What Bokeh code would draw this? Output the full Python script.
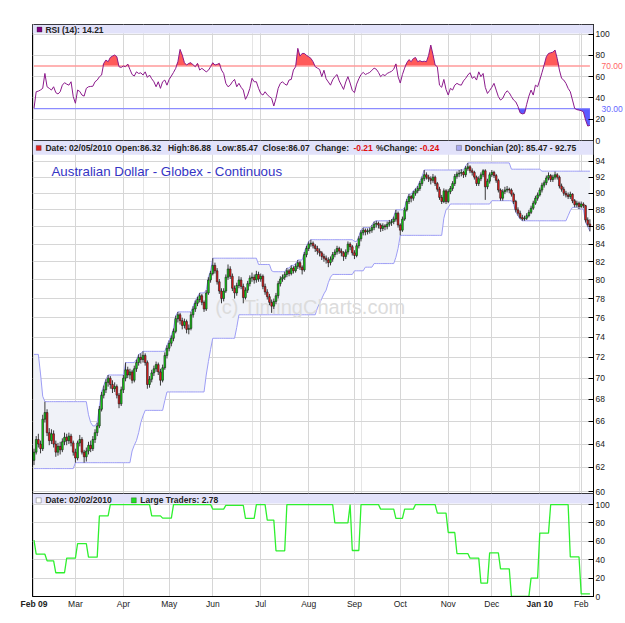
from bokeh.plotting import figure
from bokeh.layouts import column
from bokeh.models import (ColumnDataSource, Range1d, FixedTicker, Label, BoxAnnotation,
                          PrintfTickFormatter, Grid, LinearAxis)
from bokeh.embed import file_html
from bokeh.resources import INLINE
from bokeh.core.properties import value

FONT = "Liberation Sans"

# ---------------- data ----------------
OPEN = [62.6, 63.3, 64.4, 64.0, 63.6, 66.2, 66.8, 65.0, 64.3, 64.9,
        64.0, 63.3, 63.8, 63.5, 64.2, 64.6, 64.3, 64.7, 64.1, 63.3,
        62.8, 64.1, 64.4, 63.3, 62.9, 63.4, 63.9, 63.6, 64.4, 65.0,
        65.6, 67.1, 68.4, 68.9, 69.6, 70.0, 69.4, 69.0, 69.2, 68.4,
        67.6, 68.9, 70.0, 70.8, 70.3, 70.6, 69.8, 70.9, 71.5, 72.0,
        71.8, 72.2, 71.5, 69.4, 69.9, 70.5, 70.9, 71.3, 70.6, 69.8,
        71.0, 72.2, 72.9, 73.4, 73.9, 74.6, 75.9, 76.3, 75.7, 75.2,
        75.6, 74.8, 74.9, 76.3, 76.9, 77.5, 77.9, 78.3, 77.6, 76.9,
        78.6, 80.0, 80.7, 81.6, 81.0, 79.8, 78.8, 78.0, 78.8, 80.3,
        81.2, 80.4, 79.1, 78.6, 79.4, 80.0, 79.3, 78.1, 78.9, 79.6,
        80.2, 80.3, 80.0, 80.6, 80.1, 80.4, 79.3, 78.7, 78.2, 77.6,
        77.2, 77.7, 78.3, 79.6, 80.1, 80.3, 80.6, 81.0, 80.7, 81.3,
        81.0, 81.5, 81.9, 81.4, 81.1, 82.8, 83.5, 84.0, 84.1, 83.8,
        83.5, 83.2, 83.0, 82.6, 82.4, 82.2, 81.9, 82.3, 82.8, 83.1,
        83.5, 83.2, 83.0, 82.6, 83.1, 84.0, 83.7, 83.0, 82.7, 83.8,
        84.6, 85.3, 85.6, 85.4, 85.5, 85.6, 85.9, 86.3, 86.4, 86.2,
        85.8, 86.1, 86.0, 86.3, 86.5, 86.6, 86.9, 87.6, 86.2, 85.6,
        86.9, 88.0, 89.0, 89.6, 89.4, 90.0, 90.3, 90.6, 91.2, 91.8,
        92.3, 92.0, 91.8, 91.6, 92.0, 91.2, 90.5, 89.5, 89.0, 90.3,
        89.0, 90.2, 90.6, 91.2, 92.1, 92.4, 92.5, 92.6, 92.3, 93.1,
        93.3, 92.8, 92.6, 92.0, 91.2, 91.8, 92.3, 92.8, 90.8, 91.5,
        92.3, 92.6, 92.2, 91.6, 90.4, 89.4, 90.2, 90.4, 90.5, 90.4,
        89.9, 89.0, 88.0, 87.6, 87.1, 86.9, 87.0, 87.3, 87.7, 88.2,
        88.8, 89.4, 89.8, 90.4, 91.0, 91.3, 91.9, 92.2, 91.7, 92.0,
        92.3, 92.0, 90.9, 90.5, 90.0, 89.8, 89.6, 89.9, 89.1, 88.6,
        88.8, 88.4, 88.7, 88.5, 86.8, 86.32]
HIGH = [63.6, 64.7, 64.9, 64.3, 66.6, 67.8, 67.1, 65.4, 65.3, 65.2,
        64.3, 64.1, 64.2, 64.5, 65.0, 64.9, 65.0, 64.9, 64.3, 63.6,
        64.3, 64.8, 64.6, 63.5, 63.7, 64.2, 64.3, 64.7, 65.3, 65.9,
        67.4, 68.7, 69.3, 69.9, 70.3, 70.2, 69.8, 69.6, 69.4, 68.6,
        69.2, 70.3, 71.5, 71.1, 70.9, 70.8, 71.2, 71.8, 72.3, 72.4,
        72.6, 72.4, 71.7, 70.2, 70.8, 71.2, 71.6, 71.5, 70.9, 71.3,
        72.5, 73.2, 73.7, 74.2, 74.9, 76.2, 76.6, 76.5, 76.0, 75.9,
        75.8, 75.3, 76.6, 77.2, 77.8, 78.2, 78.6, 78.5, 77.8, 78.9,
        80.3, 81.0, 82.4, 81.9, 81.3, 80.1, 79.1, 79.1, 80.6, 81.7,
        81.5, 80.7, 79.4, 79.7, 80.4, 80.3, 79.6, 79.2, 79.9, 80.5,
        80.8, 80.6, 81.0, 80.9, 80.7, 80.6, 79.6, 79.0, 78.5, 77.9,
        78.0, 78.6, 79.9, 80.4, 80.6, 80.9, 81.3, 81.2, 81.6, 81.5,
        81.8, 82.2, 82.1, 81.6, 83.1, 83.8, 84.3, 84.5, 84.3, 84.0,
        83.8, 83.5, 83.2, 82.9, 82.7, 82.5, 82.6, 83.1, 83.4, 83.8,
        83.7, 83.5, 83.2, 83.4, 84.3, 84.2, 83.9, 83.3, 84.1, 84.9,
        85.6, 85.9, 85.8, 85.8, 85.9, 86.2, 86.6, 86.7, 86.6, 86.4,
        86.4, 86.3, 86.6, 86.8, 86.9, 87.2, 88.0, 87.8, 86.4, 87.2,
        88.3, 89.3, 89.9, 89.8, 90.3, 90.6, 90.9, 91.5, 92.1, 92.9,
        92.6, 92.3, 92.1, 92.4, 92.2, 91.4, 90.8, 89.8, 90.6, 90.5,
        90.5, 90.9, 91.5, 92.4, 92.7, 92.9, 93.0, 92.8, 93.4, 93.8,
        93.5, 93.1, 92.8, 92.2, 92.1, 92.6, 93.0, 93.0, 91.8, 92.6,
        92.9, 92.8, 92.4, 91.8, 90.6, 90.5, 90.8, 90.9, 90.7, 90.6,
        90.1, 89.2, 88.3, 87.9, 87.4, 87.3, 87.6, 88.0, 88.5, 89.1,
        89.7, 90.1, 90.7, 91.3, 91.6, 92.2, 92.6, 92.4, 92.3, 92.7,
        92.5, 92.2, 91.2, 90.8, 90.3, 90.1, 90.2, 90.0, 89.3, 89.1,
        89.0, 89.0, 88.9, 88.6, 87.1, 86.88]
LOW = [62.2, 63.1, 63.7, 63.2, 63.4, 65.9, 64.7, 63.9, 64.0, 63.7,
       62.9, 63.0, 63.1, 63.3, 63.9, 63.9, 64.0, 63.8, 63.0, 62.4,
       62.6, 63.8, 63.1, 62.4, 62.5, 63.1, 63.3, 63.4, 64.1, 64.7,
       65.4, 66.9, 68.1, 68.6, 69.2, 69.0, 68.6, 68.7, 68.1, 67.2,
       67.4, 68.6, 69.7, 70.0, 69.9, 69.5, 69.6, 70.6, 71.2, 71.4,
       71.5, 71.2, 69.0, 69.1, 69.6, 70.2, 70.6, 70.3, 69.3, 69.6,
       70.8, 71.9, 72.6, 73.1, 73.6, 74.4, 75.5, 75.3, 74.8, 74.9,
       74.4, 74.3, 74.7, 76.0, 76.6, 77.2, 77.6, 77.3, 76.6, 76.7,
       78.4, 79.7, 80.5, 80.7, 79.5, 78.5, 77.5, 77.7, 78.6, 80.0,
       80.1, 78.8, 78.0, 78.3, 79.1, 79.0, 77.5, 77.9, 78.6, 79.3,
       79.8, 79.6, 79.7, 79.8, 79.8, 79.0, 78.4, 77.9, 77.3, 76.5,
       76.9, 77.4, 78.0, 79.3, 79.8, 80.0, 80.3, 80.4, 80.5, 80.7,
       80.8, 81.2, 81.1, 80.6, 80.9, 82.5, 83.2, 83.7, 83.5, 83.1,
       82.8, 82.6, 82.2, 82.0, 81.8, 81.4, 81.6, 82.0, 82.5, 82.8,
       82.9, 82.6, 82.1, 82.3, 82.8, 83.3, 82.7, 82.3, 82.5, 83.5,
       84.3, 85.0, 85.0, 85.1, 85.2, 85.3, 85.6, 85.9, 85.8, 85.4,
       85.5, 85.6, 85.7, 86.0, 86.1, 86.3, 86.6, 85.9, 85.0, 85.4,
       86.7, 87.8, 88.7, 88.9, 89.1, 89.7, 90.0, 90.3, 90.9, 91.5,
       91.7, 91.4, 91.1, 91.3, 90.9, 90.2, 89.2, 88.7, 88.8, 88.7,
       88.8, 89.9, 90.3, 90.9, 91.8, 92.0, 92.1, 91.9, 92.0, 92.8,
       92.5, 92.2, 91.7, 90.9, 90.9, 91.5, 92.0, 89.2, 90.5, 91.2,
       92.0, 91.9, 91.3, 90.1, 89.1, 89.1, 89.9, 90.1, 90.0, 89.6,
       88.7, 87.7, 87.3, 86.9, 86.7, 86.7, 86.8, 87.1, 87.5, 88.0,
       88.6, 89.1, 89.6, 90.1, 90.7, 91.0, 91.6, 91.4, 91.4, 91.7,
       91.7, 90.6, 90.2, 89.7, 89.5, 89.3, 89.3, 88.8, 88.3, 88.3,
       88.1, 88.2, 88.2, 86.5, 86.0, 85.47]
CLOSE = [63.3, 64.4, 64.0, 63.6, 66.2, 66.8, 65.0, 64.3, 64.9, 64.0,
         63.3, 63.8, 63.5, 64.2, 64.6, 64.3, 64.7, 64.1, 63.3, 62.8,
         64.1, 64.4, 63.3, 62.9, 63.4, 63.9, 63.6, 64.4, 65.0, 65.6,
         67.1, 68.4, 68.9, 69.6, 70.0, 69.4, 69.0, 69.2, 68.4, 67.6,
         68.9, 70.0, 70.8, 70.3, 70.6, 69.8, 70.9, 71.5, 72.0, 71.8,
         72.2, 71.5, 69.4, 69.9, 70.5, 70.9, 71.3, 70.6, 69.8, 71.0,
         72.2, 72.9, 73.4, 73.9, 74.6, 75.9, 76.3, 75.7, 75.2, 75.6,
         74.8, 74.9, 76.3, 76.9, 77.5, 77.9, 78.3, 77.6, 76.9, 78.6,
         80.0, 80.7, 81.6, 81.0, 79.8, 78.8, 78.0, 78.8, 80.3, 81.2,
         80.4, 79.1, 78.6, 79.4, 80.0, 79.3, 78.1, 78.9, 79.6, 80.2,
         80.3, 80.0, 80.6, 80.1, 80.4, 79.3, 78.7, 78.2, 77.6, 77.2,
         77.7, 78.3, 79.6, 80.1, 80.3, 80.6, 81.0, 80.7, 81.3, 81.0,
         81.5, 81.9, 81.4, 81.1, 82.8, 83.5, 84.0, 84.1, 83.8, 83.5,
         83.2, 83.0, 82.6, 82.4, 82.2, 81.9, 82.3, 82.8, 83.1, 83.5,
         83.2, 83.0, 82.6, 83.1, 84.0, 83.7, 83.0, 82.7, 83.8, 84.6,
         85.3, 85.6, 85.4, 85.5, 85.6, 85.9, 86.3, 86.4, 86.2, 85.8,
         86.1, 86.0, 86.3, 86.5, 86.6, 86.9, 87.6, 86.2, 85.6, 86.9,
         88.0, 89.0, 89.6, 89.4, 90.0, 90.3, 90.6, 91.2, 91.8, 92.3,
         92.0, 91.8, 91.6, 92.0, 91.2, 90.5, 89.5, 89.0, 90.3, 89.0,
         90.2, 90.6, 91.2, 92.1, 92.4, 92.5, 92.6, 92.3, 93.1, 93.3,
         92.8, 92.6, 92.0, 91.2, 91.8, 92.3, 92.8, 90.8, 91.5, 92.3,
         92.6, 92.2, 91.6, 90.4, 89.4, 90.2, 90.4, 90.5, 90.4, 89.9,
         89.0, 88.0, 87.6, 87.1, 86.9, 87.0, 87.3, 87.7, 88.2, 88.8,
         89.4, 89.8, 90.4, 91.0, 91.3, 91.9, 92.2, 91.7, 92.0, 92.3,
         92.0, 90.9, 90.5, 90.0, 89.8, 89.6, 89.9, 89.1, 88.6, 88.8,
         88.4, 88.7, 88.5, 86.8, 86.28, 86.07]

# Donchian (20) channel, read as (first day index, level) steps
DONCHIAN_UPPER = [(0, 72.3), (3, 70.4), (4, 68.3), (5, 67.8), (25, 66.6), (26, 65.9), (27, 65.6),
                  (29, 65.9), (30, 67.4), (31, 68.7), (32, 69.3), (33, 69.9), (34, 70.3), (42, 71.5),
                  (47, 71.8), (48, 72.3), (49, 72.4), (50, 72.6), (61, 73.2), (62, 73.7), (63, 74.2),
                  (64, 74.9), (65, 76.2), (66, 76.6), (73, 77.2), (74, 77.8), (75, 78.2), (76, 78.6),
                  (79, 78.9), (80, 80.3), (81, 81.0), (82, 82.4), (103, 81.7), (109, 81.0), (110, 80.9),
                  (116, 81.3), (118, 81.6), (120, 81.8), (121, 82.2), (124, 83.1), (125, 83.8),
                  (126, 84.3), (127, 84.5), (147, 84.3), (149, 84.9), (150, 85.6), (151, 85.9),
                  (155, 86.2), (156, 86.6), (157, 86.7), (165, 87.2), (166, 88.0), (170, 88.3),
                  (171, 89.3), (172, 89.9), (174, 90.3), (175, 90.6), (176, 90.9), (177, 91.5),
                  (178, 92.1), (179, 92.9), (198, 93.4), (199, 93.8), (219, 93.0), (233, 92.75)]
DONCHIAN_LOWER = [(0, 61.9), (19, 62.4), (45, 63.4), (46, 63.9), (47, 64.3), (48, 65.0), (49, 65.9),
                  (50, 66.5), (51, 67.0), (60, 67.9), (61, 68.7), (79, 70.3), (80, 71.6), (81, 72.8),
                  (82, 73.9), (93, 75.0), (94, 76.3), (130, 77.0), (131, 77.5), (132, 78.0),
                  (133, 78.5), (134, 78.9), (135, 79.7), (136, 80.3), (137, 80.6), (147, 81.0),
                  (152, 81.4), (156, 81.8), (166, 82.5), (167, 83.5), (168, 85.0), (188, 87.0),
                  (189, 88.0), (190, 88.3), (191, 88.7), (210, 89.1), (220, 88.7), (221, 87.7),
                  (222, 87.3), (223, 86.9), (224, 86.7), (245, 87.3), (246, 87.9), (247, 88.3),
                  (250, 88.1), (253, 86.5), (254, 86.0), (255, 85.47)]

RSI = [30.2, 45.8, 46.4, 47.5, 49.0, 63.0, 50.5, 49.0, 47.4, 50.5,
       45.0, 43.7, 45.8, 52.0, 54.3, 53.0, 52.0, 55.2, 41.2, 35.0,
       47.4, 46.1, 42.7, 41.7, 49.0, 50.5, 50.8, 51.0, 55.2, 56.8,
       59.9, 61.5, 72.5, 75.6, 74.0, 78.0, 79.3, 80.3, 78.7, 69.3,
       68.7, 70.0, 69.3, 71.8, 66.8, 62.0, 60.6, 64.5, 63.0, 63.6,
       61.5, 64.5, 59.3, 61.5, 58.0, 55.2, 50.5, 55.2, 49.0, 55.2,
       56.8, 52.0, 57.4, 60.6, 64.0, 67.8, 74.0, 85.6, 80.3, 73.1,
       70.9, 72.5, 73.1, 71.0, 69.3, 72.5, 66.2, 67.8, 66.2, 64.5,
       66.0, 69.3, 73.1, 70.9, 71.5, 72.5, 66.2, 63.0, 53.7, 50.5,
       52.0, 55.2, 57.4, 50.5, 53.7, 50.0, 47.4, 38.7, 42.7, 49.0,
       58.4, 55.2, 55.2, 49.0, 44.2, 42.7, 45.8, 43.0, 41.2, 39.6,
       32.4, 39.6, 49.0, 53.7, 55.2, 53.0, 52.0, 56.8, 57.4, 66.2,
       69.3, 86.6, 79.3, 81.8, 81.8, 80.0, 78.7, 77.2, 74.0, 69.3,
       68.0, 66.8, 60.0, 66.0, 58.0, 55.0, 52.0, 57.0, 60.0, 62.0,
       56.0, 52.0, 48.0, 55.0, 60.0, 54.0, 47.0, 45.0, 53.0, 58.0,
       62.0, 64.0, 62.0, 63.0, 64.0, 66.0, 68.0, 67.0, 64.0, 60.0,
       62.0, 61.0, 63.0, 64.0, 65.0, 67.0, 72.0, 60.0, 54.0, 62.0,
       68.0, 73.0, 76.0, 74.0, 77.0, 78.0, 74.0, 75.0, 74.0, 74.5,
       74.0, 80.0, 89.7, 80.8, 70.9, 69.3, 52.0, 50.0, 57.4, 48.0,
       42.7, 49.0, 47.4, 52.0, 53.7, 52.5, 52.0, 56.0, 58.4, 61.5,
       63.7, 58.4, 60.0, 56.8, 64.5, 60.0, 63.0, 50.0, 44.2, 47.0,
       50.0, 53.7, 47.4, 41.2, 38.0, 39.6, 44.0, 46.7, 44.8, 41.2,
       38.0, 36.3, 32.0, 26.0, 25.0, 25.5, 34.0, 41.7, 47.4, 42.7,
       52.0, 50.5, 56.8, 63.7, 70.9, 78.7, 81.8, 82.4, 83.0, 85.0,
       77.0, 66.2, 58.4, 56.8, 53.7, 49.0, 45.8, 38.0, 30.2, 29.0,
       28.6, 28.0, 27.0, 19.2, 13.6, 14.21]

# Large Traders, weekly steps (first day index, value)
LARGE_TRADERS = [(0, 61.3), (1, 46.0), (6, 38.8), (10, 25.8), (15, 41.7), (20, 57.6), (25, 42.8),
                 (30, 87.7), (35, 100), (54, 87.7), (59, 85.2), (64, 100), (82, 95), (88, 99),
                 (97, 85), (102, 100), (107, 83), (111, 49.7), (116, 100), (138, 80), (145, 100),
                 (146, 50), (150, 100), (159, 95), (166, 85), (170, 95), (175, 100),
                 (185, 90.6), (190, 69.6), (194, 46.7), (200, 41.7), (205, 14.5), (209, 47.5),
                 (214, 30), (219, 0), (228, 20), (232, 68.9), (237, 100), (246, 43), (251, 2.78)]

MONTH_TICKS = [0, 19, 41, 62, 82, 104, 126, 147, 168, 190, 210, 232, 251]
MONTH_LABELS = ["Feb 09", "Mar", "Apr", "May", "Jun", "Jul", "Aug", "Sep", "Oct", "Nov",
                "Dec", "Jan 10", "Feb"]
RSI_LEVELS = [70, 30]
RSI_LEVEL_LABELS = ["70.00", "30.00"]
RSI_LEVEL_COLORS = ["#ff6666", "#6666ff"]

N = len(CLOSE)
IDX = list(range(N))


def expand(steps):
    out = []
    for k, (start, v) in enumerate(steps):
        end = steps[k + 1][0] if k + 1 < len(steps) else N
        out += [v] * (end - start)
    return out


UPPER = expand(DONCHIAN_UPPER)
LOWER = expand(DONCHIAN_LOWER)
LT = expand(LARGE_TRADERS)

# ---------------- layout helpers ----------------
X0, XS = 33.5, 2.184          # pixel of index 0, pixels per index


def xi(px):
    return (px - X0) / XS


XR = Range1d(xi(32), xi(594))
GRID_C = "#d6d6d6"
BAND_C = "#e2e2fa"
OVER = 6   # pixels each canvas reaches past its frame so edge labels are not cut
H1 = 116 + 24 + OVER
H3 = 103 + 27


def style_axis(ax, color="#222222", bold=False):
    ax.minor_tick_line_color = None
    ax.major_label_text_font = FONT
    ax.major_label_text_font_size = "8.5px"
    ax.major_label_text_color = color
    if bold:
        ax.major_label_text_font_style = "bold"


def base(height, top, bottom, yr, margin_top, ylog=False):
    p = figure(width=625, height=height, x_range=XR, y_range=yr,
               y_axis_type="log" if ylog else "linear",
               x_axis_location=None if bottom == OVER else "below",
               y_axis_location="right", output_backend="svg", toolbar_location=None,
               min_border_left=32, min_border_right=31, min_border_top=top,
               min_border_bottom=bottom)
    p.margin = (margin_top, 0, 0, 0)
    p.border_fill_alpha = 0
    p.outline_line_color = "black"
    p.outline_line_alpha = 1
    p.background_fill_color = "white"
    ax = p.yaxis[0]
    ax.major_tick_in = 5
    ax.major_tick_out = 0
    ax.major_label_standoff = 2
    ax.axis_line_color = "black"
    style_axis(ax)
    p.ygrid.grid_line_color = GRID_C
    if bottom == OVER:
        p.add_layout(Grid(dimension=0, ticker=FixedTicker(ticks=MONTH_TICKS),
                          grid_line_color=GRID_C))
    else:
        p.xgrid.ticker = FixedTicker(ticks=MONTH_TICKS)
        p.xgrid.grid_line_color = GRID_C
    return p


def overlay(height, top, bottom, yr, margin_top, xaxis=False):
    """Transparent twin of a panel, placed beneath it, that only carries extra axis labels."""
    o = figure(width=625, height=height, x_range=XR, y_range=yr,
               x_axis_location="below" if xaxis else None,
               y_axis_location=None, output_backend="svg", toolbar_location=None,
               min_border_left=32, min_border_right=31, min_border_top=top,
               min_border_bottom=bottom)
    o.margin = (margin_top, 0, 0, 0)
    o.background_fill_alpha = 0
    o.border_fill_alpha = 0
    o.outline_line_color = None
    if xaxis:
        o.xgrid.visible = False
    return o


def label(p, px, y, text, color="#222222", size="8.5px", style="bold", align="left"):
    p.add_layout(Label(x=xi(px), y=y, text=text, text_color=color, text_font=FONT,
                       text_font_size=size, text_font_style=style, text_baseline="middle",
                       text_align=align))


def icon(p, px0, y0, y1, color):
    p.add_layout(BoxAnnotation(left=xi(px0), right=xi(px0 + 5), bottom=y0, top=y1,
                               fill_color=color, fill_alpha=1, line_color="#222222",
                               line_width=1))


# ---------------- coloured 70.00 / 30.00 labels (beneath the RSI panel) ----------------
RSI_YR = Range1d(0, 109)
overlays = []
for k, (lev, txt, col) in enumerate(zip(RSI_LEVELS, RSI_LEVEL_LABELS, RSI_LEVEL_COLORS)):
    o = overlay(H1, 24, OVER, RSI_YR, 0 if k == 0 else -H1)
    lax = LinearAxis(ticker=FixedTicker(ticks=[lev]), major_label_overrides={lev: txt},
                     axis_line_color=None, major_tick_line_color=None,
                     major_label_standoff=2)
    style_axis(lax, color=col)
    o.add_layout(lax, "right")
    o.line(x=[XR.start], y=[lev], line_alpha=0)
    overlays.append(o)

# ---------------- RSI panel ----------------
p1 = base(H1, 24, OVER, RSI_YR, -H1)
p1.yaxis.ticker = FixedTicker(ticks=[0, 20, 40, 60, 80, 100])
rsi_src = ColumnDataSource(dict(x=IDX, rsi=RSI, hi=[max(r, 70) for r in RSI],
                                lo=[min(r, 30) for r in RSI], l70=[70] * N, l30=[30] * N))
p1.varea(x="x", y1="l70", y2="hi", source=rsi_src, fill_color="#ff5a5a")
p1.varea(x="x", y1="lo", y2="l30", source=rsi_src, fill_color="#5a5aff")
p1.line(x="x", y="l70", source=rsi_src, line_color="#ff9a9a", line_width=1.3)
p1.line(x="x", y="l30", source=rsi_src, line_color="#8c8cff", line_width=1.3)
p1.line(x="x", y="rsi", source=rsi_src, line_color="#8b1a8b", line_width=1)
p1.add_layout(BoxAnnotation(bottom=100.5, fill_color=BAND_C, fill_alpha=1, line_color=None))
icon(p1, 36.5, 101.9, 106.6, "#800080")
label(p1, 45, 104.3, "RSI (14): 14.21")

# ---------------- price panel (log) ----------------
p2 = base(353 + OVER, 0, OVER, Range1d(59.84, 96.7), -OVER, ylog=True)
p2.yaxis.ticker = FixedTicker(ticks=list(range(60, 96, 2)))
p2.yaxis.formatter = PrintfTickFormatter(format="%d")
don_src = ColumnDataSource(dict(x=IDX, up=UPPER, lo=LOWER))
p2.varea(x="x", y1="lo", y2="up", source=don_src, fill_color="#f0f2f8")
p2.line(x="x", y="up", source=don_src, line_color="#9d9df5", line_width=1)
p2.line(x="x", y="lo", source=don_src, line_color="#9d9df5", line_width=1)
p2.text(x=[xi(215)], y=[77.1], text=["(c) TimingCharts.com"], text_color="#dcdcdc",
        text_font=value(FONT), text_font_size="20px", text_baseline="middle")
c_src = ColumnDataSource(dict(
    x=IDX, high=HIGH, low=LOW,
    top=[max(o, c) for o, c in zip(OPEN, CLOSE)],
    bot=[min(o, c) for o, c in zip(OPEN, CLOSE)],
    col=["#11dd11" if c >= o else "#f01c1c" for o, c in zip(OPEN, CLOSE)]))
p2.segment(x0="x", y0="low", x1="x", y1="high", source=c_src, line_color="#3a3a3a",
           line_width=1)
p2.vbar(x="x", top="top", bottom="bot", width=0.78, source=c_src, fill_color="col",
        line_color="#1a1a1a", line_width=0.6)
p2.add_layout(BoxAnnotation(bottom=94.86, fill_color=BAND_C, fill_alpha=1, line_color=None))
icon(p2, 35.7, 95.41, 96.06, "#e02020")
HY = 95.73
label(p2, 45, HY, "Date: 02/05/2010")
label(p2, 115, HY, "Open:86.32")
label(p2, 167.7, HY, "High:86.88")
label(p2, 216.7, HY, "Low:85.47")
label(p2, 262.3, HY, "Close:86.07")
label(p2, 315, HY, "Change:")
label(p2, 353.5, HY, "-0.21", color="#e01010")
label(p2, 376, HY, "%Change:")
label(p2, 420, HY, "-0.24", color="#e01010")
icon(p2, 456.7, 95.41, 96.06, "#a8a8f0")
label(p2, 465, HY, "Donchian (20): 85.47 - 92.75")
label(p2, 51, 92.65, "Australian Dollar - Globex - Continuous", color="#3434c4",
      size="13.3px", style="normal")

# ---------------- bold year labels (beneath the bottom panel) ----------------
LT_YR = Range1d(0, 112)
o3 = overlay(H3, 0, 27, LT_YR, -OVER, xaxis=True)
yr_pairs = [(t, s) for t, s in zip(MONTH_TICKS, MONTH_LABELS) if "0" in s]
bx = o3.xaxis[0]
bx.ticker = FixedTicker(ticks=[t for t, _ in yr_pairs])
bx.major_label_overrides = {t: s for t, s in yr_pairs}
bx.axis_line_color = None
bx.major_tick_line_color = None
bx.major_tick_in = 0
bx.major_tick_out = 0
bx.major_label_standoff = 2
style_axis(bx, bold=True)
o3.line(x=[XR.start], y=[0], line_alpha=0)

# ---------------- Large Traders panel ----------------
p3 = base(H3, 0, 27, LT_YR, -H3)
p3.yaxis.ticker = FixedTicker(ticks=[0, 20, 40, 60, 80, 100])
xa = p3.xaxis[0]
xa.ticker = FixedTicker(ticks=MONTH_TICKS)
xa.major_label_overrides = {t: ("" if "0" in s else s) for t, s in zip(MONTH_TICKS, MONTH_LABELS)}
xa.major_tick_in = 0
xa.major_tick_out = 0
xa.axis_line_color = "black"
xa.major_label_standoff = 2
style_axis(xa)
lt_src = ColumnDataSource(dict(x=IDX, v=LT))
p3.add_layout(BoxAnnotation(bottom=101.2, fill_color=BAND_C, fill_alpha=1, line_color=None,
                            level="underlay"))
p3.line(x="x", y="v", source=lt_src, line_color="#2ef02e", line_width=1.3)
icon(p3, 35.7, 101.8, 107.3, "white")
label(p3, 45, 104.8, "Date: 02/02/2010")
icon(p3, 131, 101.8, 107.3, "#22dd22")
label(p3, 140, 104.8, "Large Traders: 2.78")

layout = column(*overlays, p1, p2, o3, p3, spacing=0)
open("out.html", "w").write(file_html(layout, INLINE))
